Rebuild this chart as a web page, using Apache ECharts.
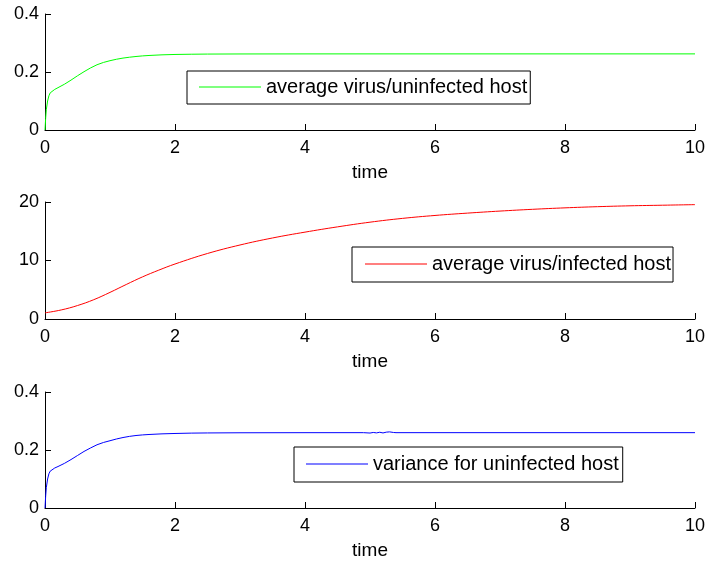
<!DOCTYPE html>
<html>
<head>
<meta charset="utf-8">
<script src="https://cdn.jsdelivr.net/npm/echarts@6/dist/echarts.min.js"></script>
<style>html,body{margin:0;padding:0;background:#fff}#c{width:709px;height:563px}</style>
</head>
<body>
<div id="c"></div>
<script>
// ---- data ----
var timeU = [0,0.01,0.02,0.04,0.06,0.08,0.1,0.15,0.2,0.3,0.4,0.5,0.6,0.7,0.8,0.9,1.0,1.1,1.2,1.3,1.4,1.5,1.6,1.8,2.0,2.25,2.5,3,4,5,6,7,8,9,10];
var uninfected = [0,0.04,0.07,0.1,0.118,0.128,0.134,0.14,0.146,0.158,0.172,0.187,0.201,0.214,0.225,0.233,0.239,0.244,0.248,0.251,0.2535,0.2555,0.257,0.2592,0.2605,0.2613,0.2618,0.2622,0.2624,0.2625,0.2625,0.2625,0.2625,0.2625,0.2625];
var timeI = [0,0.25,0.5,0.75,1.0,1.25,1.5,1.75,2.0,2.5,3.0,3.5,4,4.5,5,5.5,6,6.5,7,7.5,8,8.5,9,9.5,10];
var infected = [1.05,1.55,2.3,3.3,4.55,5.9,7.2,8.35,9.4,11.2,12.65,13.85,14.85,15.75,16.55,17.2,17.7,18.1,18.45,18.75,19.0,19.2,19.35,19.45,19.55];
var timeV = [0,0.01,0.02,0.04,0.06,0.08,0.1,0.15,0.2,0.3,0.4,0.5,0.6,0.7,0.8,0.9,1.0,1.1,1.2,1.3,1.4,1.5,1.6,1.8,2.0,2.25,2.5,3,4,4.9,5.0,5.05,5.1,5.15,5.2,5.25,5.3,5.33,5.36,5.4,6,7,8,9,10];
var variance = [0,0.04,0.07,0.1,0.118,0.127,0.132,0.138,0.143,0.154,0.167,0.181,0.195,0.207,0.218,0.226,0.232,0.238,0.243,0.247,0.25,0.252,0.2535,0.2557,0.257,0.2582,0.2588,0.2594,0.2597,0.2598,0.2585,0.2605,0.259,0.2612,0.2588,0.2615,0.2625,0.2565,0.2605,0.2598,0.2598,0.2598,0.2598,0.2598,0.2598];
var xTicks = [0,2,4,6,8,10];
var names = ['average virus/uninfected host','average virus/infected host','variance for uninfected host'];

function pairs(t, v){ return t.map(function(x,i){ return [x, v[i]]; }); }

var FONT = 'Liberation Sans, Arial, Helvetica, sans-serif';
var grids = [
  {left:45, right:14, top:14, height:116},
  {left:45, right:14, top:202, height:117},
  {left:45, right:14, top:392, height:116}
].map(function(g){ g.outerBoundsMode='none'; g.containLabel=false; return g; });

function xAxis(i){
  return {
    type:'value', gridIndex:i, min:0, max:10, interval:2,
    name:'time', nameLocation:'middle', nameGap:33,
    nameTextStyle:{color:'#000', fontSize:19, fontFamily:FONT},
    axisLine:{show:true, onZero:false, lineStyle:{color:'#000', width:1}},
    axisTick:{show:true, inside:true, length:6, lineStyle:{color:'#000'}},
    axisLabel:{color:'#000', fontSize:18, fontFamily:FONT, margin:9,
      formatter:function(v){ return xTicks.indexOf(v)>=0 ? String(v) : ''; }},
    splitLine:{show:false}
  };
}
function yAxis(i, max, interval){
  return {
    type:'value', gridIndex:i, min:0, max:max, interval:interval,
    axisLine:{show:true, lineStyle:{color:'#000', width:1}},
    axisTick:{show:true, inside:true, length:6, lineStyle:{color:'#000'}},
    axisLabel:{color:'#000', fontSize:18, fontFamily:FONT, margin:6},
    splitLine:{show:false}
  };
}
function legend(i, left, top, pad){
  return {
    data:[names[i]], left:left, top:top, orient:'horizontal',
    icon:'rect', itemWidth:62, itemHeight:1,
    padding:pad, backgroundColor:'#fff', borderColor:'#000', borderWidth:1, borderRadius:0,
    textStyle:{color:'#000', fontSize:20, fontFamily:FONT, lineHeight:22},
    selectedMode:false
  };
}
function series(i, t, v, color, smooth){
  return {
    name:names[i], type:'line', xAxisIndex:i, yAxisIndex:i,
    data:pairs(t, v), symbol:'none', showSymbol:false,
    smooth:smooth,
    lineStyle:{color:color, width:1}, itemStyle:{color:color},
    emphasis:{disabled:true}
  };
}

var chart = echarts.init(document.getElementById('c'), null, {renderer:'canvas'});
chart.setOption({
  animation:false,
  backgroundColor:'#fff',
  grid:grids,
  xAxis:[xAxis(0), xAxis(1), xAxis(2)],
  yAxis:[yAxis(0,0.4,0.2), yAxis(1,20,10), yAxis(2,0.4,0.2)],
  legend:[
    legend(0, 187, 71, [5,3,6,12]),
    legend(1, 352, 247, [6,2,7,13]),
    legend(2, 294, 447, [6,4,7,12])
  ],
  series:[
    series(0, timeU, uninfected, '#00ff00', false),
    series(1, timeI, infected, '#ff0000', 0.4),
    series(2, timeV, variance, '#0000ff', false)
  ]
});
</script>
</body>
</html>
